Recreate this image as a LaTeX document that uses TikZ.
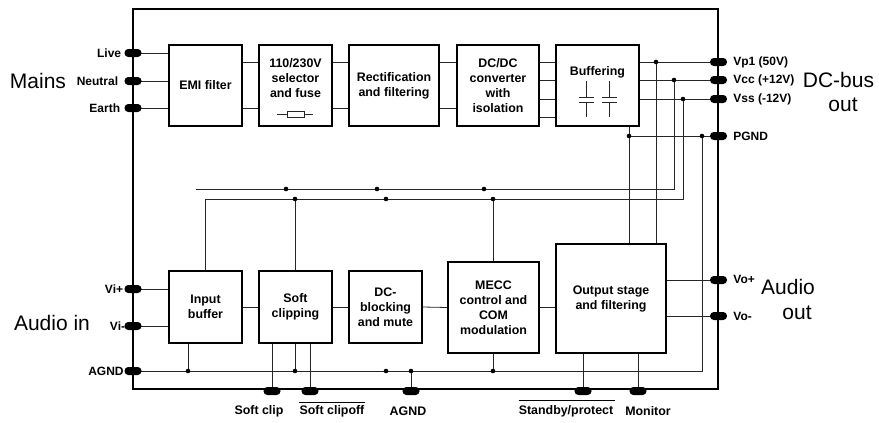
\documentclass[tikz,border=0pt]{standalone}
\usepackage{fontspec}
\setmainfont{Liberation Sans}
\begin{document}
\begin{tikzpicture}[x=1pt,y=-1pt,
  blk/.style={draw=black, line width=1.2pt, fill=white, inner sep=0pt, align=center,
              font=\bfseries\fontsize{12.4}{15}\selectfont},
  lbl/.style={font=\bfseries\fontsize{12.4}{15}\selectfont, align=center, inner sep=0pt},
  pinshape/.style={fill=black, rounded corners=3.8pt, minimum width=17pt, minimum height=8pt, inner sep=0pt},
  wire/.style={line width=0.8pt, draw=black!85},
  jdot/.style={circle, fill=black, inner sep=0pt, minimum size=4.6pt},
  big/.style={font=\fontsize{21}{24}\selectfont, inner sep=0pt, align=center},
  plbl/.style={font=\bfseries\fontsize{12}{14}\selectfont, inner sep=0pt},
  blbl/.style={font=\bfseries\fontsize{12.4}{14}\selectfont, inner sep=0pt}
]
\useasboundingbox (0,0) rectangle (879,423);
% frame
\draw[line width=2pt] (133,9) rectangle (718,389);

% top blocks
\node[blk, minimum width=73pt, minimum height=81pt] (emi) at (205.5,85.5) {EMI filter};
\node[blk, minimum width=73pt, minimum height=81pt] (sel) at (295.5,85.5) {};
\node[lbl] (selt) at (295.5,78) {110/230V\\selector\\and fuse};
\node[blk, minimum width=90pt, minimum height=81pt] (rect) at (394,85.5) {Rectification\\and filtering};
\node[blk, minimum width=82pt, minimum height=81pt] (dcdc) at (498,85.5) {DC/DC\\converter\\with\\isolation};
\node[blk, minimum width=83pt, minimum height=81pt] (buf) at (597.5,85.5) {};
\node[lbl] (buft) at (597.5,72) {Buffering};

% bottom blocks
\node[blk, minimum width=73pt, minimum height=72pt] (inbuf) at (205.5,307) {Input\\buffer};
\node[blk, minimum width=73pt, minimum height=72pt] (soft) at (295.5,307) {Soft\\clipping};
\node[blk, minimum width=73pt, minimum height=72pt] (dcb) at (385.5,307) {DC-\\blocking\\and mute};
\node[blk, minimum width=91pt, minimum height=91pt] (mecc) at (493.5,307.5) {MECC\\control and\\COM\\modulation};
\node[blk, minimum width=110pt, minimum height=109pt] (outst) at (611,298.5) {Output stage\\and filtering};

% fuse symbol
\draw[wire] (277,114) -- (313,114);
\draw[wire, fill=white] (287,111) rectangle (304,117);
% capacitor symbols
\foreach \cx in {586,609}{
  \draw[wire] (\cx,81) -- (\cx,97) (\cx-7.5,97) -- (\cx+7.5,97)
              (\cx-7.5,102) -- (\cx+7.5,102) (\cx,102) -- (\cx,117);
}

% helper levels
\coordinate (yA) at (0,62);
\coordinate (yB) at (0,108);
\coordinate (yC) at (0,80);
\coordinate (yD) at (0,99);
\coordinate (yE) at (0,117);
\coordinate (yF) at (0,189);
\coordinate (yG) at (0,199);
\coordinate (yH) at (0,371);

% pins (coordinates first)
\coordinate (cLive) at (133,53);
\coordinate (cNeu) at (133,81);
\coordinate (cEarth) at (133,108);
\coordinate (cVip) at (133,289);
\coordinate (cVim) at (133,326);
\coordinate (cAgnd) at (133,371);
\coordinate (cVp1) at (718.5,62);
\coordinate (cVcc) at (718.5,80);
\coordinate (cVss) at (718.5,99);
\coordinate (cPgnd) at (718.5,136);
\coordinate (cVop) at (718.5,280);
\coordinate (cVom) at (718.5,316);
\coordinate (cSc) at (272,391);
\coordinate (cSco) at (310,391);
\coordinate (cAg2) at (411,391);
\coordinate (cStb) at (583,391);
\coordinate (cMon) at (638,391);

% junction coordinates
\coordinate (jVp) at (656,62);
\coordinate (jVcc) at (674,80);
\coordinate (jVss) at (683,99);
\coordinate (jPg1) at (629,136);
\coordinate (jPg2) at (702,136);
\coordinate (fA) at (196,189);

% wires: mains
\draw[wire] (cLive) -- (emi.west |- cLive);
\draw[wire] (cNeu) -- (emi.west |- cNeu);
\draw[wire] (cEarth) -- (emi.west |- cEarth);
\foreach \a/\b in {emi/sel, sel/rect, rect/dcdc}{
  \draw[wire] (\a.east |- yA) -- (\b.west |- yA);
  \draw[wire] (\a.east |- yB) -- (\b.west |- yB);
}
\foreach \yy in {yA,yC,yD,yE}{
  \draw[wire] (dcdc.east |- \yy) -- (buf.west |- \yy);
}
\draw[wire] (buf.east |- cVp1) -- (cVp1);
\draw[wire] (buf.east |- cVcc) -- (cVcc);
\draw[wire] (buf.east |- cVss) -- (cVss);
% supply distribution
\draw[wire] (jVp) -- (jVp |- outst.north);
\draw[wire] (jVcc) |- (fA);
\draw[wire] (jVss) |- (inbuf.north |- yG) -- (inbuf.north);
\draw[wire] (soft.north |- yG) -- (soft.north);
\draw[wire] (mecc.north |- yG) -- (mecc.north);
% PGND / AGND
\draw[wire] (cPgnd) -- (jPg1);
\draw[wire] (jPg1 |- buf.south) -- (jPg1 |- outst.north);
\draw[wire] (jPg2) |- (cAgnd);
\draw[wire] (inbuf.south -| 188,0) -- (188,371);
\draw[wire] (soft.south) -- (soft.south |- yH);
\draw[wire] (mecc.south) -- (mecc.south |- yH);
\draw[wire] (411,371) -- (cAg2);
\draw[wire] (soft.south -| cSc) -- (cSc);
\draw[wire] (soft.south -| cSco) -- (cSco);
\draw[wire] (outst.south -| cStb) -- (cStb);
\draw[wire] (outst.south -| cMon) -- (cMon);
% audio chain
\draw[wire] (cVip) -- (inbuf.west |- cVip);
\draw[wire] (cVim) -- (inbuf.west |- cVim);
\draw[wire] (inbuf.east) -- (soft.west);
\draw[wire] (soft.east) -- (dcb.west);
\draw[wire] (dcb.east) -- (mecc.west);
\draw[wire] (mecc.east) -- (outst.west |- mecc.east);
\draw[wire] (outst.east |- cVop) -- (cVop);
\draw[wire] (outst.east |- cVom) -- (cVom);

% pins
\foreach \p in {Live,Neu,Earth,Vip,Vim,Agnd,Vp1,Vcc,Vss,Pgnd,Vop,Vom,Sc,Sco,Ag2,Stb,Mon}{
  \node[pinshape] (p\p) at (c\p) {};
}

% dots
\foreach \dd [count=\i] in {jVp,jVcc,jVss,jPg1,jPg2}{ \node[jdot] (d\i) at (\dd) {}; }
\foreach \xx/\yy [count=\i] in {286/189,377/189,484/189,295/199,386/199,493/199,
                               188/371,295/371,386/371,411/371,493/371}{
  \node[jdot] (e\i) at (\xx,\yy) {};
}

% pin labels
\node[plbl, anchor=east] (lLive) at ([xshift=-3pt]pLive.west) {Live};
\node[plbl, anchor=east] (lNeu) at ([xshift=-6pt]pNeu.west) {Neutral};
\node[plbl, anchor=east] (lEarth) at ([xshift=-4pt]pEarth.west) {Earth};
\node[plbl, anchor=east] (lVip) at ([xshift=-1pt]pVip.west) {Vi+};
\node[plbl, anchor=east] (lVim) at ([xshift=1pt]pVim.west) {Vi-};
\node[plbl, anchor=east] (lAgnd) at ([xshift=-0.5pt]pAgnd.west) {AGND};
\node[plbl, anchor=west] (lVp1) at ([xshift=6pt]pVp1.east) {Vp1 (50V)};
\node[plbl, anchor=west] (lVcc) at ([xshift=6pt]pVcc.east) {Vcc (+12V)};
\node[plbl, anchor=west] (lVss) at ([xshift=6pt]pVss.east) {Vss (-12V)};
\node[plbl, anchor=west] (lPgnd) at ([xshift=6pt]pPgnd.east) {PGND};
\node[plbl, anchor=west] (lVop) at ([xshift=6pt,yshift=1pt]pVop.east) {Vo+};
\node[plbl, anchor=west] (lVom) at ([xshift=6pt]pVom.east) {Vo-};
\node[blbl] (lSc) at (259,411) {Soft clip};
\node[blbl] (lSco) at (332,411) {Soft clipoff};
\draw[line width=0.8pt] ([yshift=2.5pt]lSco.north west) -- ([yshift=2.5pt]lSco.north east);
\node[blbl] (lAg2) at (408,411) {AGND};
\node[blbl] (lStb) at (566,411) {Standby/protect};
\draw[line width=0.8pt] ([yshift=5pt]lStb.north west) -- ([xshift=2pt,yshift=5pt]lStb.north east);
\node[blbl] (lMon) at (648,411) {Monitor};

% group labels
\node[big] (mains) at (38,81) {Mains};
\node[big] (ain) at (52,323) {Audio in};
\node[big] (dcbus) at (838.5,80) {DC-bus};
\node[big] (dcout) at (843,105) {out};
\node[big] (aud) at (788,287) {Audio};
\node[big] (audout) at (797,313) {out};
\end{tikzpicture}
\end{document}
